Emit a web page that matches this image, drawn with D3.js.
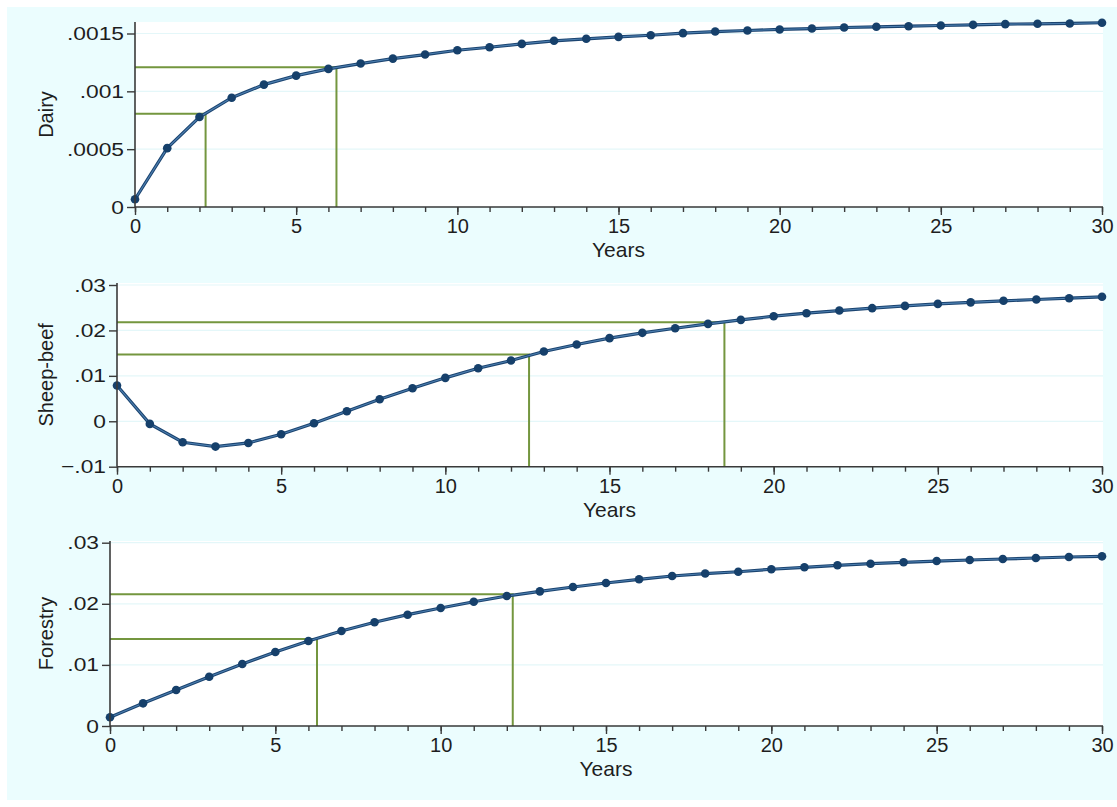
<!DOCTYPE html>
<html><head><meta charset="utf-8">
<script src="https://cdn.jsdelivr.net/npm/d3@7"></script>
<style>body{margin:0;background:#fff}text{font-family:"Liberation Sans",Arial,Helvetica,sans-serif}</style>
</head><body>
<svg id="c" width="1117" height="807"></svg>
<script>
// ---- data ----
const years = d3.range(0, 31);
const dairy = [0.000067,0.000509,0.000778,0.000945,0.001058,0.001136,0.001194,0.00124,0.001283,0.001318,0.001355,0.001381,0.00141,0.001437,0.001454,0.001471,0.001485,0.001503,0.001517,0.001526,0.001535,0.001543,0.001552,0.001558,0.001563,0.001569,0.001575,0.001581,0.001584,0.001587,0.001593];
const sheepBeef = [0.00786,-0.00058,-0.00462,-0.00557,-0.00477,-0.00286,-0.00044,0.0022,0.00485,0.00727,0.00956,0.01167,0.01337,0.01535,0.01689,0.0183,0.01947,0.02048,0.02145,0.02233,0.02313,0.02379,0.02437,0.0249,0.0254,0.02584,0.02618,0.02652,0.02681,0.02709,0.0274];
const forestry = [0.00142,0.00371,0.00589,0.00807,0.01015,0.01211,0.01391,0.01555,0.01697,0.01822,0.01931,0.02034,0.02128,0.02204,0.02275,0.0234,0.02401,0.02455,0.02495,0.02525,0.02565,0.02597,0.0263,0.02656,0.02679,0.027,0.02717,0.02733,0.0275,0.02766,0.02777];
const dairyRef = [[2.19, 0.000806], [6.25, 0.001208]];
const sheepRef = [[12.55, 0.01469], [18.5, 0.0218]];
const forestRef = [[6.26, 0.01424], [12.18, 0.02155]];
const dairyTicks = [0, 0.0005, 0.001, 0.0015];
const dairyLabels = ["0", ".0005", ".001", ".0015"];
const sheepTicks = [-0.01, 0, 0.01, 0.02, 0.03];
const sheepLabels = ["\u2212.01", "0", ".01", ".02", ".03"];
const forestTicks = [0, 0.01, 0.02, 0.03];
const forestLabels = ["0", ".01", ".02", ".03"];
const xTicks = [0, 5, 10, 15, 20, 25, 30];
const xLabel = "Years";

// ---- layout ----
const panels = [
  {name: "Dairy", values: dairy, refs: dairyRef, ticks: dairyTicks, labels: dairyLabels,
   domain: [0, 0.0015], left: 135, bottom: 207, tickTop: 33.5, top: 22},
  {name: "Sheep-beef", values: sheepBeef, refs: sheepRef, ticks: sheepTicks, labels: sheepLabels,
   domain: [-0.01, 0.03], left: 117, bottom: 466.7, tickTop: 285, top: 283},
  {name: "Forestry", values: forestry, refs: forestRef, ticks: forestTicks, labels: forestLabels,
   domain: [0, 0.03], left: 110, bottom: 726, tickTop: 542.7, top: 541}
];
const RIGHT = 1102;
const SX = 1.2;
const svg = d3.select("#c");
svg.append("rect").attr("x", 7).attr("y", 7).attr("width", 1110).attr("height", 793).attr("fill", "#ebfdfe");

panels.forEach(p => {
  const x = d3.scaleLinear().domain([0, 30]).range([p.left, RIGHT]);
  const y = d3.scaleLinear().domain(p.domain).range([p.bottom, p.tickTop]);
  const g = svg.append("g");
  g.append("rect").attr("x", p.left).attr("y", p.top).attr("width", RIGHT + 1 - p.left)
    .attr("height", p.bottom - p.top).attr("fill", "#ffffff");
  // grid
  g.selectAll(".grid").data(p.ticks).join("line")
    .attr("x1", p.left).attr("x2", RIGHT + 1).attr("y1", d => y(d)).attr("y2", d => y(d))
    .attr("stroke", "#e4f7f9").attr("stroke-width", 1.2);
  // reference lines
  p.refs.forEach(r => {
    g.append("path")
      .attr("d", `M${x(0)},${y(r[1])}H${x(r[0])}V${p.bottom}`)
      .attr("fill", "none").attr("stroke", "#74963f").attr("stroke-width", 2);
  });
  // series
  const line = d3.line().x((d, i) => x(years[i])).y(d => y(d));
  g.append("path").datum(p.values).attr("d", line).attr("fill", "none")
    .attr("stroke", "#1b4470").attr("stroke-width", 3.2);
  g.append("path").datum(p.values).attr("d", line).attr("fill", "none")
    .attr("stroke", "#4d7fb0").attr("stroke-width", 1.1);
  g.selectAll(".pt").data(p.values).join("circle")
    .attr("cx", (d, i) => x(years[i])).attr("cy", d => y(d)).attr("r", 4.3)
    .attr("fill", "#16406b");
  // y axis
  const ya = g.append("g").attr("transform", `translate(${p.left},0)`)
    .call(d3.axisLeft(y).tickValues(p.ticks).tickFormat((d, i) => p.labels[i]).tickSize(8).tickPadding(3));
  ya.select(".domain").remove();
  ya.append("line").attr("x1", 0).attr("x2", 0).attr("y1", p.top).attr("y2", p.bottom)
    .attr("stroke", "#3a3a3a").attr("stroke-width", 1.6);
  ya.selectAll(".tick line").attr("stroke", "#3a3a3a").attr("stroke-width", 1.4);
  ya.selectAll(".tick text").attr("font-size", 19).attr("fill", "#1e1e1e")
    .attr("x", -11 / SX).attr("transform", `scale(${SX},1)`);
  // x axis minor
  const xa = g.append("g").attr("transform", `translate(0,${p.bottom})`);
  xa.call(d3.axisBottom(x).tickValues(years).tickFormat("").tickSize(5));
  xa.select(".domain").remove();
  xa.selectAll(".tick line").attr("stroke", "#3a3a3a").attr("stroke-width", 1.4);
  const xb = g.append("g").attr("transform", `translate(0,${p.bottom})`)
    .call(d3.axisBottom(x).tickValues(xTicks).tickFormat(d3.format("d")).tickSize(8).tickPadding(4));
  xb.select(".domain").remove();
  xb.append("line").attr("x1", p.left).attr("x2", RIGHT + 1).attr("y1", 0).attr("y2", 0)
    .attr("stroke", "#3a3a3a").attr("stroke-width", 1.6);
  xb.selectAll(".tick line").attr("stroke", "#3a3a3a").attr("stroke-width", 1.4);
  xb.selectAll(".tick text").attr("font-size", 20).attr("fill", "#1e1e1e");
  // titles
  g.append("text").attr("x", (p.left + RIGHT) / 2).attr("y", p.bottom + 50)
    .attr("text-anchor", "middle").attr("font-size", 21).attr("fill", "#1e1e1e").text(xLabel);
  g.append("text").attr("transform", `translate(53,${(p.top + p.bottom) / 2}) rotate(-90)`)
    .attr("text-anchor", "middle").attr("font-size", 20).attr("fill", "#1e1e1e").text(p.name);
});
</script>
</body></html>
